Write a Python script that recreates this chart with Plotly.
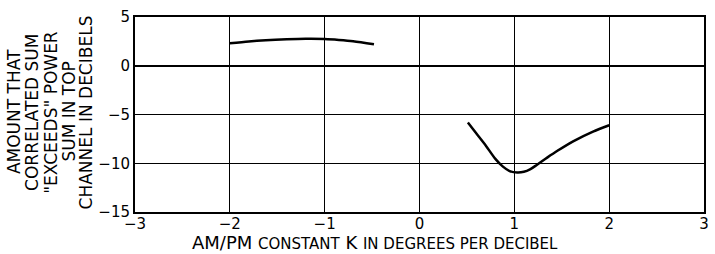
import plotly.graph_objects as go

# Curve 1 (upper)
k1 = [-2.0, -1.8, -1.62, -1.4, -1.2, -1.0, -0.85, -0.7, -0.48]
db1 = [2.3, 2.5, 2.62, 2.71, 2.76, 2.74, 2.65, 2.52, 2.2]

# Curve 2 (lower)
k2 = [0.51, 0.6, 0.7, 0.8, 0.88, 0.95, 1.03, 1.1, 1.17, 1.24, 1.35, 1.45, 1.62, 1.83, 2.0]
db2 = [-5.82, -6.95, -8.2, -9.55, -10.35, -10.8, -10.95, -10.88, -10.6, -10.15, -9.4, -8.75, -7.75, -6.75, -6.1]

x_ticks = [-3, -2, -1, 0, 1, 2, 3]
x_tick_labels = ["\u2212" + str(abs(v)) if v < 0 else str(v) for v in x_ticks]
y_ticks = [-15, -10, -5, 0, 5]
y_tick_labels = ["\u2212" + str(abs(v)) if v < 0 else str(v) for v in y_ticks]

y_title_lines = ["AMOUNT THAT", "CORRELATED SUM", "\"EXCEEDS\" POWER", "SUM IN TOP", "CHANNEL IN DECIBELS"]

FONT = "DejaVu Sans"
L, R, T, B = 135, 6, 17, 42
W, H = 715, 254
PW, PH = W - L - R, H - T - B

fig = go.Figure()
for xs, ys in [(k1, db1), (k2, db2)]:
    fig.add_trace(go.Scatter(x=xs, y=ys, mode="lines",
                             line=dict(color="black", width=2.5, shape="spline", smoothing=0.8),
                             showlegend=False, hoverinfo="skip"))

fig.update_layout(
    width=W, height=H,
    margin=dict(l=L, r=R, t=T, b=B),
    paper_bgcolor="white", plot_bgcolor="white",
    font=dict(family=FONT, color="black", size=15),
    xaxis=dict(range=[-3, 3], tickvals=x_ticks, ticktext=x_tick_labels,
               showgrid=True, gridcolor="black", gridwidth=1.3,
               zeroline=False, showline=True, linecolor="black", linewidth=2, mirror=True,
               ticks="", ticklen=0, tickfont=dict(size=15), ticklabelstandoff=-3),
    yaxis=dict(range=[-15, 5], tickvals=y_ticks, ticktext=y_tick_labels,
               showgrid=True, gridcolor="black", gridwidth=1.3,
               zeroline=True, zerolinecolor="black", zerolinewidth=2,
               showline=True, linecolor="black", linewidth=2, mirror=True,
               ticks="", ticklen=0, tickfont=dict(size=15)),
)

centers = [13, 31, 50, 68, 86]
for cx, line in zip(centers, y_title_lines):
    fig.add_annotation(
        text=line, xref="paper", yref="paper",
        x=(cx - L) / PW, y=(H - B - 112) / PH,
        xanchor="center", yanchor="middle", textangle=-90, borderpad=0,
        showarrow=False, font=dict(size=17, family=FONT, color="black"))

fig.add_annotation(
    text="AM/PM <span style='font-size:15px'>CONSTANT</span> K <span style='font-size:15px'>IN DEGREES PER DECIBEL</span>",
    xref="paper", yref="paper",
    x=(377 - L) / PW, y=-(254 - (H - B)) / PH,
    xanchor="center", yanchor="bottom", showarrow=False, borderpad=0,
    font=dict(size=18, family=FONT, color="black"))

fig.write_html("out.html", config={"displayModeBar": False},
               post_script="document.body.style.margin='0';")
